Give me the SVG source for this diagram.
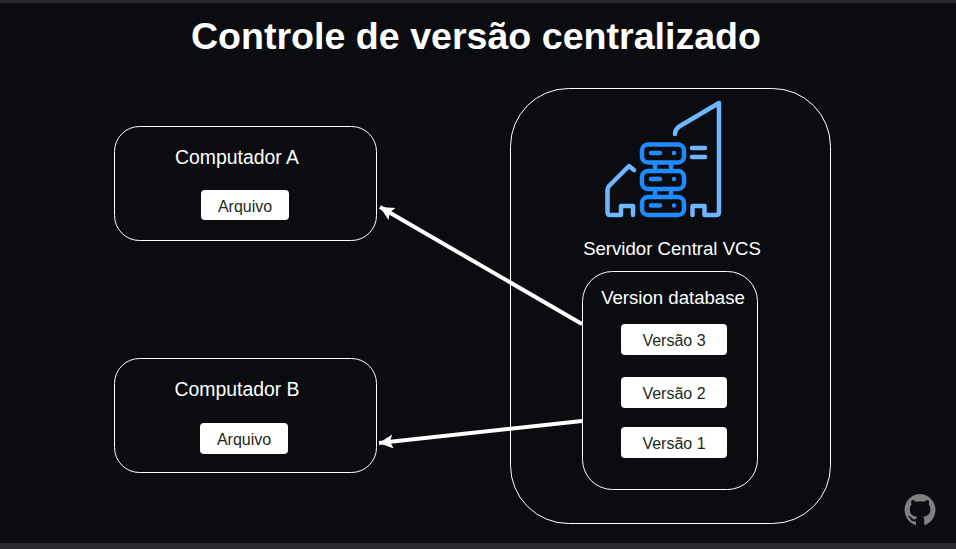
<svg xmlns="http://www.w3.org/2000/svg" width="956" height="549" viewBox="0 0 956 549">
<style>
text{font-family:"Liberation Sans",Arial,sans-serif;text-anchor:middle}
.box{fill:none;stroke:#fff;stroke-width:1}
.chip{fill:#fff}
.lbl{fill:#fff;font-size:18.600px}
.pc{fill:#fff;font-size:19.400px}
.chipt{fill:#1a2a1a;font-size:16px}
.conn{stroke:#fff;stroke-width:4;fill:none}
.lb{fill:none;stroke:#6fb5ff;stroke-width:4.500;stroke-linecap:round;stroke-linejoin:round}
.db{fill:none;stroke:#1f8bff;stroke-width:4.500;stroke-linecap:round;stroke-linejoin:round}
.dot{fill:#1f8bff}
</style>
<defs><marker id="ah" markerUnits="userSpaceOnUse" markerWidth="16" markerHeight="15" refX="14" refY="7" orient="auto"><path d="M0 0L14 7L0 14L3 7Z" fill="#fff"/></marker></defs>
<rect width="956" height="549" fill="#0a0c10"/>
<rect width="956" height="3" fill="#2a2a2e"/>
<rect y="543" width="956" height="6" fill="#2a2a2e"/>
<text x="476" y="49" font-size="37.600" font-weight="700" fill="#fff" id="title">Controle de versão centralizado</text>
<g id="server"><rect class="box" x="510.500" y="88.500" width="320" height="435" rx="58"/>
<g id="icon">
<path class="lb" d="M675 134Q675 129 680 126L719 103V212Q719 215 716 215H704.500V206H692.500V215"/>
<path class="lb" d="M692 148H705M692 157H705"/>
<path class="lb" d="M634 170L629 166L609 186Q607.500 188 607.500 190V212Q607.500 215 610 215H621V206H633V215"/>
<rect class="db" x="642" y="144.500" width="42" height="18" rx="6"/>
<rect class="db" x="642" y="171" width="42" height="18" rx="6"/>
<rect class="db" x="642" y="197" width="42" height="18" rx="6"/>
<path class="db" d="M655 163V171M671 163V171M655 189V197M671 189V197"/>
<path class="db" d="M651 153H660M651 179H660M651 205.500H660"/>
<circle class="dot" cx="674" cy="153" r="2.300"/><circle class="dot" cx="674" cy="179" r="2.300"/><circle class="dot" cx="674" cy="205.500" r="2.300"/>
</g>
<text class="lbl" x="672" y="255">Servidor Central VCS</text></g>
<g id="database"><rect class="box" x="582.500" y="271.500" width="175" height="218" rx="30"/>
<text class="lbl" x="673" y="304">Version database</text></g>
<g id="v3"><rect class="chip" x="621" y="324" width="106" height="31" rx="4"/><text class="chipt" x="674" y="346">Versão 3</text></g>
<g id="v2"><rect class="chip" x="621" y="377" width="106" height="31" rx="4"/><text class="chipt" x="674" y="399">Versão 2</text></g>
<g id="v1"><rect class="chip" x="621" y="427" width="106" height="31" rx="4"/><text class="chipt" x="674" y="449">Versão 1</text></g>
<g id="computerA"><rect class="box" x="114.500" y="126.500" width="262" height="114" rx="25"/>
<text class="pc" x="237" y="164">Computador A</text>
<rect class="chip" x="201" y="190" width="88" height="30" rx="4"/><text class="chipt" x="245" y="212">Arquivo</text></g>
<g id="computerB"><rect class="box" x="114.500" y="358.500" width="262" height="114" rx="25"/>
<text class="pc" x="237" y="396">Computador B</text>
<rect class="chip" x="200" y="423" width="88" height="31" rx="4"/><text class="chipt" x="244" y="445">Arquivo</text></g>
<g id="connectors">
<path class="conn" d="M582 324L380 207" marker-end="url(#ah)"/>
<path class="conn" d="M582 421L379 443" marker-end="url(#ah)"/>
</g>
<g id="github"><path fill="#808080" d="M920 494a16 16 0 0 0-5 31c.8.100 1-.3 1-.8v-3c-4.500 1-5.400-2-5.400-2-.7-1.800-1.800-2.300-1.800-2.300-1.500-1 .1-1 .1-1 1.600.1 2.500 1.700 2.500 1.700 1.400 2.500 3.800 1.800 4.700 1.300.2-1 .6-1.800 1-2.200-3.600-.4-7.300-1.800-7.300-8 0-1.800.6-3.200 1.700-4.300-.2-.4-.7-2 .2-4.300 0 0 1.300-.4 4.400 1.600a15 15 0 0 1 8 0c3-2 4.400-1.600 4.400-1.600.9 2.300.3 3.900.2 4.300 1 1.100 1.700 2.500 1.700 4.300 0 6.200-3.700 7.600-7.300 8 .6.500 1.100 1.500 1.100 3v4.400c0 .5.200.9 1.100.8A16 16 0 0 0 920 494z"/></g>
</svg>
